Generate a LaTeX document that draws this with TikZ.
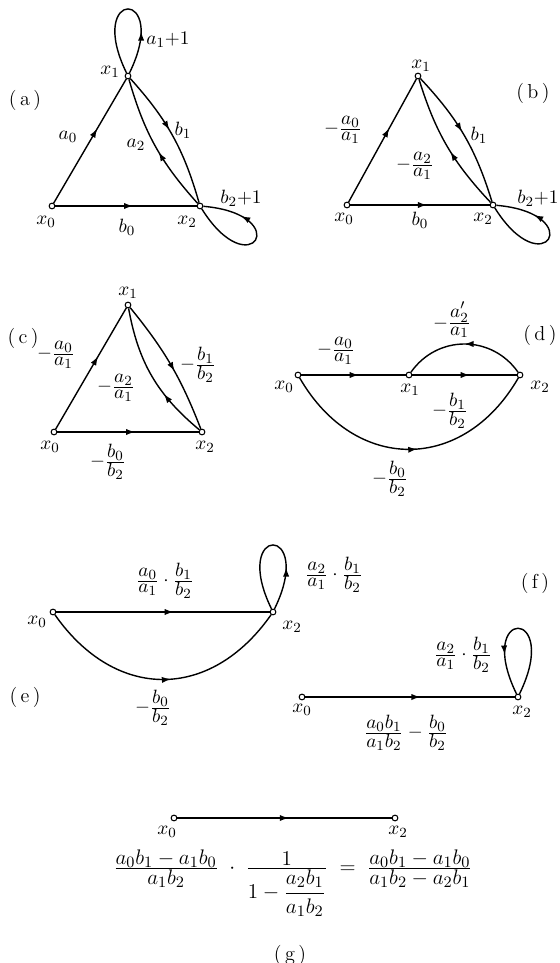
\documentclass[tikz,border=0pt]{standalone}
\usepackage{amsmath}
\usetikzlibrary{arrows.meta,decorations.markings}
\newcommand{\fr}[2]{\frac{\displaystyle #1}{\displaystyle #2}}
\tikzset{
  vtx/.style={circle,draw,fill=white,line width=0.6pt,inner sep=0pt,minimum size=1.15mm},
  sig/.style={draw,line width=0.8pt,postaction={decorate},
    decoration={markings,mark=at position #1 with {\arrow{Latex[length=1.8mm,width=1.25mm]}}}},
  sig/.default=0.55,
  lab/.style={font=\fontsize{11}{13}\selectfont,inner sep=0pt},
  tag/.style={font=\fontsize{11.5}{13.5}\selectfont,inner sep=0pt}
}

\begin{document}
\begin{tikzpicture}[x=0.02cm,y=-0.02cm]
  \path[use as bounding box] (0,0) rectangle (560,963);

  % (a) original graph.
  \node[vtx] (ax0) at (52,206) {};
  \node[vtx] (ax1) at (128,76) {};
  \node[vtx] (ax2) at (200,206) {};
  \node[tag] (atag) at (25,100) {(\,a\,)};
  \node[lab] (ax0l) at (46,222) {$x_0$};
  \node[lab] (ax1l) at (110,72) {$x_1$};
  \node[lab] (ax2l) at (187,222) {$x_2$};
  \draw[sig=0.6] (ax0) -- (ax1);
  \draw[sig] (ax0) -- (ax2);
  \draw[sig=0.45] (ax1) to[bend left=13] (ax2);
  \draw[sig=0.45] (ax2) to[bend left=13] (ax1);
  \draw[sig=0.3] (ax1) to[out=64,in=116,min distance=1.9cm] (ax1);
  \draw[sig=0.72] (ax2) to[out=-58,in=-5,min distance=1.85cm] (ax2);
  \node[lab] (aa0) at (68,137) {$a_0$};
  \node[lab] (aa2) at (136,145) {$a_2$};
  \node[lab] (ab1) at (183,130) {$b_1$};
  \node[lab] (ab0) at (127,227) {$b_0$};
  \node[lab] (aa1) at (168,40) {$a_1{+}1$};
  \node[lab] (ab2) at (241,198) {$b_2{+}1$};

  % (b) divided through by a1.
  \node[vtx] (bx0) at (347,205) {};
  \node[vtx] (bx1) at (418,76) {};
  \node[vtx] (bx2) at (493,205) {};
  \node[tag] (btag) at (533,93) {(\,b\,)};
  \node[lab] (bx0l) at (344,219) {$x_0$};
  \node[lab] (bx1l) at (421,66) {$x_1$};
  \node[lab] (bx2l) at (483,219) {$x_2$};
  \draw[sig=0.6] (bx0) -- (bx1);
  \draw[sig] (bx0) -- (bx2);
  \draw[sig=0.47] (bx1) to[bend left=13] (bx2);
  \draw[sig=0.45] (bx2) to[bend left=13] (bx1);
  \draw[sig=0.72] (bx2) to[out=-58,in=-5,min distance=1.85cm] (bx2);
  \node[lab] (ba0) at (343,130) {$-\fr{a_0}{a_1}$};
  \node[lab] (ba2) at (415,166) {$-\fr{a_2}{a_1}$};
  \node[lab] (bb1) at (479,135) {$b_1$};
  \node[lab] (bb0) at (420,220) {$b_0$};
  \node[lab,anchor=west] (bb2) at (517,198) {$b_2{+}1$};

  % (c) self loops removed.
  \node[vtx] (cx0) at (54,432) {};
  \node[vtx] (cx1) at (128,305) {};
  \node[vtx] (cx2) at (202,432) {};
  \node[tag] (ctag) at (23,338) {(\,c\,)};
  \node[lab] (cx0l) at (50,447) {$x_0$};
  \node[lab] (cx1l) at (128,293) {$x_1$};
  \node[lab] (cx2l) at (205,447) {$x_2$};
  \draw[sig=0.6] (cx0) -- (cx1);
  \draw[sig] (cx0) -- (cx2);
  \draw[sig=0.55] (cx1) to[bend left=9] (cx2);
  \draw[sig=0.35] (cx2) to[bend left=20] (cx1);
  \node[lab] (ca0) at (56,355) {$-\fr{a_0}{a_1}$};
  \node[lab] (ca2) at (116,388) {$-\fr{a_2}{a_1}$};
  \node[lab] (cb1) at (198,365) {$-\fr{b_1}{b_2}$};
  \node[lab] (cb0) at (108,462) {$-\fr{b_0}{b_2}$};

  % (d) redrawn in a line.
  \node[vtx] (dx0) at (298,375) {};
  \node[vtx] (dx1) at (409,375) {};
  \node[vtx] (dx2) at (520,375) {};
  \node[tag] (dtag) at (540,335) {(\,d\,)};
  \node[lab] (dx0l) at (284,387) {$x_0$};
  \node[lab] (dx1l) at (410,390) {$x_1$};
  \node[lab] (dx2l) at (540,387) {$x_2$};
  \draw[sig=0.55] (dx0) -- (dx1);
  \draw[sig=0.55] (dx1) -- (dx2);
  \draw[sig=0.5] (dx2) to[out=125,in=55,looseness=1.1] (dx1);
  \draw[sig=0.53] (dx0) to[out=-60,in=-120,looseness=1.29] (dx2);
  \node[lab] (da0) at (336,351) {$-\fr{a_0}{a_1}$};
  \node[lab] (da2) at (452,320) {$-\fr{a_2'}{a_1}$};
  \node[lab] (db1) at (450,411) {$-\fr{b_1}{b_2}$};
  \node[lab] (db0) at (390,479) {$-\fr{b_0}{b_2}$};

  % (e) x1 eliminated.
  \node[vtx] (ex0) at (53,612) {};
  \node[vtx] (ex2) at (273,612) {};
  \node[tag] (etag) at (25,697) {(\,e\,)};
  \node[lab] (ex0l) at (37,622) {$x_0$};
  \node[lab] (ex2l) at (292,627) {$x_2$};
  \draw[sig=0.55] (ex0) -- (ex2);
  \draw[sig=0.53] (ex0) to[out=-55,in=-125,looseness=1.25] (ex2);
  \draw[sig=0.3] (ex2) to[out=64,in=116,min distance=1.9cm] (ex2);
  \node[lab] (eab) at (165,581) {$\fr{a_0}{a_1}\cdot\fr{b_1}{b_2}$};
  \node[lab] (eb0) at (153,708) {$-\fr{b_0}{b_2}$};
  \node[lab] (eloop) at (334,575) {$\fr{a_2}{a_1}\cdot\fr{b_1}{b_2}$};

  % (f) parallel branches combined.
  \node[vtx] (fx0) at (302,697) {};
  \node[vtx] (fx2) at (518,697) {};
  \node[tag] (ftag) at (535,583) {(\,f\,)};
  \node[lab] (fx0l) at (302,710) {$x_0$};
  \node[lab] (fx2l) at (522,712) {$x_2$};
  \draw[sig=0.55] (fx0) -- (fx2);
  \draw[sig=0.72] (fx2) to[out=64,in=116,min distance=1.95cm] (fx2);
  \node[lab] (floop) at (463,655) {$\fr{a_2}{a_1}\cdot\fr{b_1}{b_2}$};
  \node[lab] (fgain) at (406,733) {$\fr{a_0b_1}{a_1b_2}-\fr{b_0}{b_2}$};

  % (g) loop removed, final gain.
  \node[vtx] (gx0) at (174,818) {};
  \node[vtx] (gx2) at (395,818) {};
  \node[lab] (gx0l) at (167,832) {$x_0$};
  \node[lab] (gx2l) at (398,832) {$x_2$};
  \draw[sig=0.52] (gx0) -- (gx2);
  \node[lab,font=\fontsize{12.5}{15}\selectfont] (geq) at (293,883)
    {$\fr{a_0b_1-a_1b_0}{a_1b_2}\;\cdot\;\fr{1}{1-\fr{a_2b_1}{a_1b_2}}\;=\;\fr{a_0b_1-a_1b_0}{a_1b_2-a_2b_1}$};
  \node[tag] (gtag) at (290,955) {(\,g\,)};
\end{tikzpicture}
\end{document}
